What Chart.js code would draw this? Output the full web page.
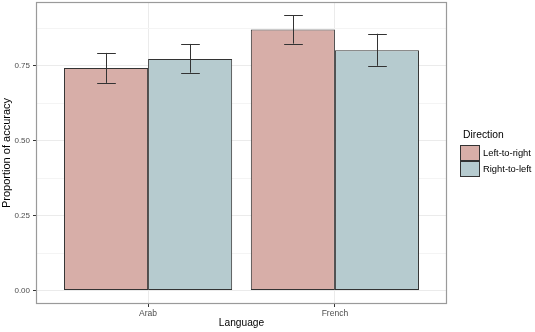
<!DOCTYPE html>
<html><head><meta charset="utf-8">
<script src="https://cdn.jsdelivr.net/npm/chart.js@4/dist/chart.umd.min.js"></script>
<style>html,body{margin:0;padding:0;background:#fff}#wrap{width:535px;height:332px}</style>
</head><body><div id="wrap"><canvas id="c" width="535" height="332"></canvas></div>
<script>
const categories = ['Arab', 'French'];
const seriesNames = ['Left-to-right', 'Right-to-left'];
const ltrValues = [0.743, 0.871];
const rtlValues = [0.773, 0.802];
const ltrLower = [0.693, 0.824];
const ltrUpper = [0.793, 0.918];
const rtlLower = [0.727, 0.750];
const rtlUpper = [0.823, 0.857];
const yTickValues = [0, 0.25, 0.5, 0.75];
const yMinorValues = [0.125, 0.375, 0.625, 0.875];
const legendTitle = 'Direction';
const xTitle = 'Language';
const yTitle = 'Proportion of accuracy';

const FONT = "'Liberation Sans', Arial, Helvetica, sans-serif";
const colors = ['rgb(215,174,168)', 'rgb(182,203,207)'];
const lowers = [ltrLower, rtlLower];
const uppers = [ltrUpper, rtlUpper];

const toPts = vals => vals.map((v, i) => ({x: i + 1, y: v}));

const overlay = {
  id: 'overlay',
  afterDatasetsDraw(chart) {
    const ctx = chart.ctx;
    const xs = chart.scales.x, ys = chart.scales.y;
    const half = (xs.getPixelForValue(1.05) - xs.getPixelForValue(1));
    ctx.save();
    ctx.strokeStyle = '#333';
    ctx.lineWidth = 1;
    for (let d = 0; d < 2; d++) {
      const meta = chart.getDatasetMeta(d);
      meta.data.forEach((bar, j) => {
        const cx = Math.round(bar.x) + 0.5;
        const yl = ys.getPixelForValue(lowers[d][j]);
        const yu = ys.getPixelForValue(uppers[d][j]);
        ctx.beginPath();
        ctx.moveTo(cx, yu); ctx.lineTo(cx, yl);
        ctx.moveTo(cx - half, Math.round(yu) + 0.5); ctx.lineTo(cx + half, Math.round(yu) + 0.5);
        ctx.moveTo(cx - half, Math.round(yl) + 0.5); ctx.lineTo(cx + half, Math.round(yl) + 0.5);
        ctx.stroke();
      });
    }
    ctx.restore();
  },
  afterDraw(chart) {
    const ctx = chart.ctx;
    const a = chart.chartArea;
    ctx.save();
    ctx.strokeStyle = '#9a9a9a';
    ctx.lineWidth = 1.2;
    ctx.strokeRect(a.left + 0.5, a.top + 0.5, a.right - a.left - 1, a.bottom - a.top - 1);
    // legend
    const lx = a.right + 13;
    ctx.fillStyle = '#000';
    ctx.font = '10.3px ' + FONT;
    ctx.textBaseline = 'middle';
    ctx.textAlign = 'left';
    ctx.fillText(legendTitle, lx + 3, 135);
    seriesNames.forEach((name, i) => {
      const ky = 145 + i * 16;
      ctx.fillStyle = colors[i];
      ctx.fillRect(lx + 0.5, ky + 0.5, 19, 15);
      ctx.strokeStyle = '#333';
      ctx.lineWidth = 1;
      ctx.strokeRect(lx + 0.5, ky + 0.5, 19, 15);
      ctx.fillStyle = '#000';
      ctx.font = '9.4px ' + FONT;
      ctx.fillText(name, lx + 23, ky + 8.5);
    });
    ctx.restore();
  }
};

new Chart(document.getElementById('c'), {
  type: 'bar',
  data: {
    datasets: [
      {label: seriesNames[0], data: toPts(ltrValues), backgroundColor: colors[0], borderColor: '#333', borderWidth: 1, borderSkipped: false},
      {label: seriesNames[1], data: toPts(rtlValues), backgroundColor: colors[1], borderColor: '#333', borderWidth: 1, borderSkipped: false}
    ]
  },
  options: {
    responsive: false,
    animation: false,
    devicePixelRatio: 1,
    layout: {padding: {top: 2, right: 88, left: 0, bottom: 0}},
    plugins: {legend: {display: false}, tooltip: {enabled: false}},
    datasets: {bar: {categoryPercentage: 0.9, barPercentage: 1.0}},
    scales: {
      x: {
        type: 'linear', min: 0.4, max: 2.6, offset: false,
        afterBuildTicks: s => { s.ticks = categories.map((c, i) => ({value: i + 1})); },
        afterFit: s => { s.height = 28; s.paddingLeft = 0; s.paddingRight = 0; },
        border: {display: false},
        grid: {offset: false, color: '#ebebeb', tickColor: '#333', tickLength: 3, lineWidth: 1},
        ticks: {autoSkip: false, maxRotation: 0, padding: 2, color: '#4d4d4d',
          font: {family: FONT, size: 8.5},
          callback: v => categories[Math.round(v) - 1]},
        title: {display: true, text: xTitle, color: '#000', font: {family: FONT, size: 10.2}, padding: {top: 0, bottom: 2.5}}
      },
      y: {
        min: -0.045, max: 0.963,
        afterBuildTicks: s => { s.ticks = yTickValues.concat(yMinorValues).sort((p, q) => p - q).map(v => ({value: v})); },
        afterFit: s => { s.width = 36; s.paddingTop = 0; s.paddingBottom = 0; },
        border: {display: false},
        grid: {
          offset: false,
          color: c => yMinorValues.includes(c.tick.value) ? '#f4f4f4' : '#ebebeb',
          tickColor: c => yMinorValues.includes(c.tick.value) ? 'rgba(0,0,0,0)' : '#333',
          tickLength: 3, lineWidth: 1
        },
        ticks: {autoSkip: false, padding: 3, color: '#4d4d4d', font: {family: FONT, size: 8},
          callback: v => yMinorValues.includes(v) ? '' : v.toFixed(2)},
        title: {display: true, text: yTitle, color: '#000', font: {family: FONT, size: 11}, padding: {top: 0, bottom: 0}}
      }
    }
  },
  plugins: [overlay]
});
</script></body></html>
